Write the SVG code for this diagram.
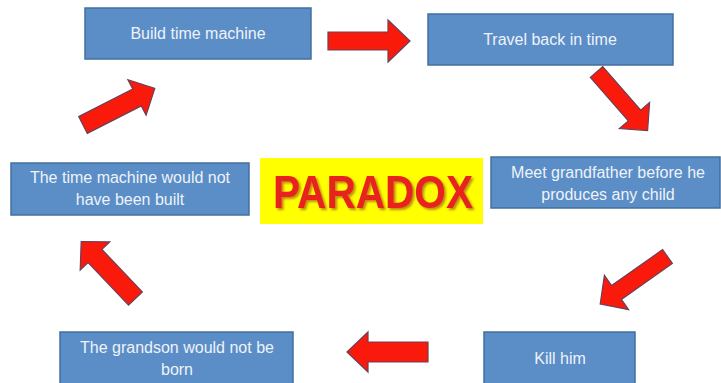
<svg xmlns="http://www.w3.org/2000/svg" width="721" height="383" viewBox="0 0 721 383">
<style>
.box{fill:#5b8dc6;stroke:#41709f;stroke-width:1.5}
.lbl{font-family:"Liberation Sans",Arial,sans-serif;font-size:16px;fill:#eef3fa;text-anchor:middle}
.arr{fill:#fa1a0c;stroke:#6a4058;stroke-width:1.2;stroke-linejoin:miter}
.par{font-family:"Liberation Sans",Arial,sans-serif;font-weight:bold;font-size:47px;text-anchor:middle}
</style>
<defs>
<filter id="sh" x="-10%" y="-20%" width="130%" height="150%">
<feDropShadow dx="2" dy="2" stdDeviation="1" flood-color="#8a2a20" flood-opacity="0.55"/>
</filter>
</defs>
<rect width="721" height="383" fill="#ffffff"/>
<g id="connectors">
<polygon class="arr" points="328,32 388,32 388,20 410,41 388,62 388,50 328,50"/>
<polygon class="arr" points="590.3,77.4 602.7,66.6 640.7,110.1 649.6,102.4 647.6,130.6 619.4,128.6 628.3,120.9"/>
<polygon class="arr" points="662.6,249.6 672.4,263.4 621.4,299.4 628.6,309.7 600.2,304 604.4,275.3 611.6,285.6"/>
<polygon class="arr" points="428,342 368,342 368,332 347,352 368,372 368,362 428,362"/>
<polygon class="arr" points="128.6,305.1 142.4,291.9 101.9,249.4 109.8,241.9 81.2,241.5 80.2,270.1 88.1,262.6"/>
<polygon class="arr" points="78.7,116.6 132.7,89.1 127.9,79.7 154.8,88.4 146.1,115.3 141.3,105.9 87.3,133.4"/>
</g>
<g id="build">
<rect class="box" x="85" y="8" width="226" height="51"/>
<text class="lbl" x="198" y="39">Build time machine</text>
</g>
<g id="travel">
<rect class="box" x="428" y="14" width="245" height="51"/>
<text class="lbl" x="550" y="45">Travel back in time</text>
</g>
<g id="meet">
<rect class="box" x="491" y="157" width="229" height="51"/>
<text class="lbl" x="608" y="178">Meet grandfather before he</text>
<text class="lbl" x="608" y="200">produces any child</text>
</g>
<g id="kill">
<rect class="box" x="484" y="332" width="151" height="52"/>
<text class="lbl" x="560" y="364">Kill him</text>
</g>
<g id="grandson">
<rect class="box" x="60" y="332" width="233" height="52"/>
<text class="lbl" x="177" y="353">The grandson would not be</text>
<text class="lbl" x="177" y="375">born</text>
</g>
<g id="notbuilt">
<rect class="box" x="11" y="163" width="238" height="52"/>
<text class="lbl" x="130" y="183">The time machine would not</text>
<text class="lbl" x="130" y="205">have been built</text>
</g>
<g id="paradox">
<rect x="260" y="158" width="223" height="66" fill="#ffff00"/>
<text class="par" x="373" y="208" fill="#e8231f" filter="url(#sh)" textLength="200" lengthAdjust="spacingAndGlyphs">PARADOX</text>
</g>
</svg>
